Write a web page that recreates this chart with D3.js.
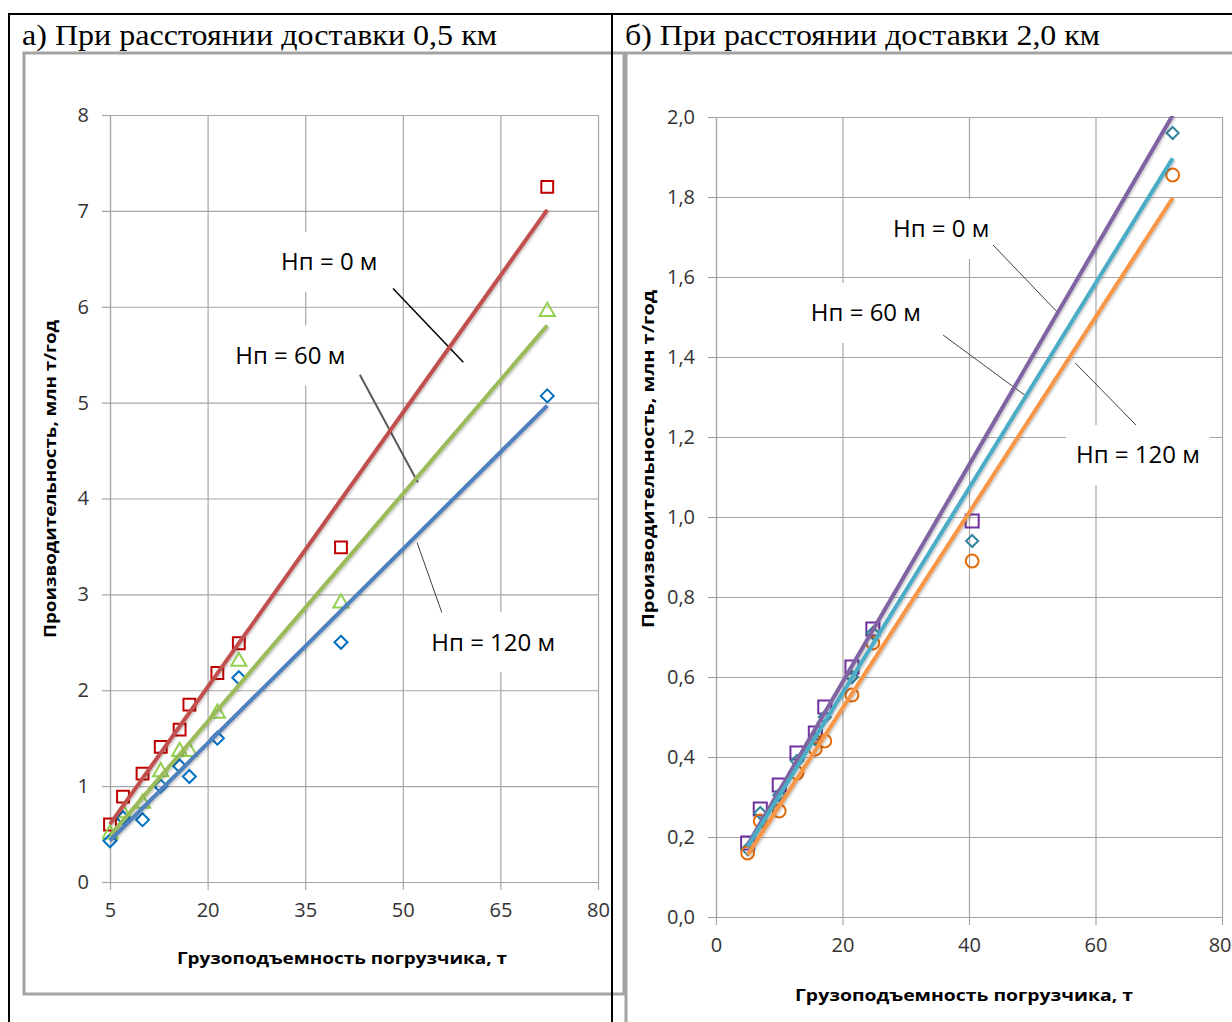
<!DOCTYPE html>
<html>
<head>
<meta charset="utf-8">
<script src="https://cdn.jsdelivr.net/npm/d3@7"></script>
<style>
    body { margin: 0; background: #fff; }
    svg { display: block; }
</style>
</head>
<body>
<script>
// DATA

// loader capacity, t (same set of loaders on both charts)
var capacity = [5, 7, 10, 12.8, 15.7, 17.2, 21.5, 24.8, 40.5, 72.2];

var seriesNames = ['Нп = 0 м', 'Нп = 60 м', 'Нп = 120 м'];

// a) delivery distance 0.5 km, output mln t/year
var leftH0 = [0.60, 0.89, 1.13, 1.41, 1.59, 1.85, 2.18, 2.49, 3.49, 7.25];
var leftH60 = [0.50, 0.72, 0.82, 1.15, 1.36, 1.36, 1.76, 2.30, 2.91, 5.95];
var leftH120 = [0.43, 0.67, 0.65, 1.00, 1.21, 1.10, 1.50, 2.13, 2.50, 5.07];
var leftXTicks = [5, 20, 35, 50, 65, 80];
var leftYTicks = [0, 1, 2, 3, 4, 5, 6, 7, 8];

// б) delivery distance 2.0 km
var rightH0 = [0.185, 0.27, 0.33, 0.41, 0.46, 0.525, 0.625, 0.72, 0.99, 2.08];
var rightH60 = [0.17, 0.26, 0.305, 0.39, 0.445, 0.50, 0.60, 0.71, 0.94, 1.96];
var rightH120 = [0.16, 0.24, 0.265, 0.36, 0.42, 0.44, 0.555, 0.685, 0.89, 1.855];
var rightXTicks = [0, 20, 40, 60, 80];
var rightYTicks = [0, 0.2, 0.4, 0.6, 0.8, 1.0, 1.2, 1.4, 1.6, 1.8, 2.0];

var titles = ['а) При расстоянии доставки 0,5 км', 'б) При расстоянии доставки 2,0 км'];
var xTitle = 'Грузоподъемность погрузчика, т';
var yTitle = 'Производительность, млн т/год';

window.LoaderCharts = {
    init: function () {
        var self = this;

        // PROPERTIES

        self.width = 1232;
        self.height = 1022;
        self.ruFormat = d3.formatLocale({decimal: ',', thousands: ' ', grouping: [3], currency: ['', '']});

        // SVG Setup
        self.svg = d3.select('body').append('svg')
            .attr('width', self.width)
            .attr('height', self.height);

        var defs = self.svg.append('defs');
        defs.append('filter').attr('id', 'soft')
            .attr('x', '-10%').attr('y', '-10%').attr('width', '120%').attr('height', '120%')
            .append('feDropShadow')
            .attr('dx', 1).attr('dy', 1.5).attr('stdDeviation', 1)
            .attr('flood-color', '#000').attr('flood-opacity', 0.25);

        self.drawFrames();

        self.drawPanel({
            id: 'a',
            plot: {left: 110, top: 115, right: 598, bottom: 882},
            xDomain: [5, 80],
            yDomain: [0, 8],
            xTicks: leftXTicks,
            yTicks: leftYTicks,
            yFormat: self.ruFormat.format('d'),
            xTitle: {x: 342, y: 958, len: 330},
            yTitle: {x: 50, y: 479, len: 318},
            series: [
                {values: leftH0, marker: 'square', size: 140, markColor: '#C00000', lineColor: '#C0504D'},
                {values: leftH60, marker: 'triangle', size: 100, markColor: '#92D050', lineColor: '#9BBB59'},
                {values: leftH120, marker: 'diamond', size: 6.5, markColor: '#0070C0', lineColor: '#4F81BD'}
            ],
            notes: [
                {text: seriesNames[0], at: [38.7, 6.47], from: [48.5, 6.19], to: [59.3, 5.42], stroke: '#000', sw: 1.5},
                {text: seriesNames[1], at: [32.7, 5.49], from: [43.4, 5.29], to: [52.3, 4.17], stroke: '#595959', sw: 2},
                {text: seriesNames[2], at: [63.9, 2.50], from: [52.2, 3.54], to: [56.0, 2.81], stroke: '#404040', sw: 1}
            ]
        });

        self.drawPanel({
            id: 'b',
            plot: {left: 716, top: 117, right: 1222, bottom: 917},
            xDomain: [0, 80],
            yDomain: [0, 2],
            xTicks: rightXTicks,
            yTicks: rightYTicks,
            yFormat: self.ruFormat.format('.1f'),
            lastLabelEnd: 1231,
            xTitle: {x: 964, y: 995, len: 338},
            yTitle: {x: 648, y: 459, len: 338},
            series: [
                {values: rightH0, marker: 'square', size: 170, markColor: '#7030A0', lineColor: '#8064A2'},
                {values: rightH60, marker: 'diamond', size: 6, markColor: '#31859C', lineColor: '#4BACC6'},
                {values: rightH120, marker: 'circle', size: 130, markColor: '#E46C0A', lineColor: '#F79646'}
            ],
            notes: [
                {text: seriesNames[0], at: [35.6, 1.72], from: [43.8, 1.68], to: [54.1, 1.51], stroke: '#404040', sw: 1},
                {text: seriesNames[1], at: [23.7, 1.51], from: [35.9, 1.455], to: [49.2, 1.30], stroke: '#404040', sw: 1},
                {text: seriesNames[2], at: [66.7, 1.155], from: [56.8, 1.385], to: [66.4, 1.23], stroke: '#404040', sw: 1}
            ]
        });
    },
    drawFrames: function () {
        var self = this,
            g = self.svg.append('g');

        // chart areas (grey borders)
        g.append('rect')
            .attr('x', 24).attr('y', 53).attr('width', 600).attr('height', 941)
            .attr('fill', 'none').attr('stroke', '#A3A3A3').attr('stroke-width', 3);
        g.append('path')
            .attr('d', 'M626,1030 V53 H1240')
            .attr('fill', 'none').attr('stroke', '#A3A3A3').attr('stroke-width', 3);

        // table borders
        g.append('path')
            .attr('d', 'M9,1030 V14 H1240 M612,14 V1030')
            .attr('fill', 'none').attr('stroke', '#000').attr('stroke-width', 2);

        // captions
        g.selectAll('text.caption').data(titles).enter().append('text')
            .attr('class', 'caption')
            .attr('x', function (d, i) { return i === 0 ? 22 : 625; })
            .attr('y', 45)
            .attr('font-family', '"Liberation Serif", "Times New Roman", serif')
            .attr('font-size', 30)
            .attr('textLength', 475)
            .attr('lengthAdjust', 'spacingAndGlyphs')
            .attr('fill', '#000')
            .text(function (d) { return d; });
    },
    fitLine: function (xs, ys) {
        var n = xs.length,
            mx = d3.mean(xs),
            my = d3.mean(ys),
            sxy = 0,
            sxx = 0;

        xs.forEach(function (x, i) {
            sxy += (x - mx) * (ys[i] - my);
            sxx += (x - mx) * (x - mx);
        });

        var b = sxy / sxx,
            a = my - b * mx;

        return [xs[0], xs[n - 1]].map(function (x) { return {x: x, y: a + b * x}; });
    },
    symbolFor: function (s) {
        if (s.marker === 'diamond') {
            var r = s.size;
            return {
                draw: function (ctx) {
                    ctx.moveTo(0, -r);
                    ctx.lineTo(r, 0);
                    ctx.lineTo(0, r);
                    ctx.lineTo(-r, 0);
                    ctx.closePath();
                }
            };
        }
        return {square: d3.symbolSquare, triangle: d3.symbolTriangle, circle: d3.symbolCircle}[s.marker];
    },
    drawPanel: function (cfg) {
        var self = this,
            p = cfg.plot,
            w = p.right - p.left,
            h = p.bottom - p.top,
            x, y, g, plot, xAxis;

        x = d3.scaleLinear().domain(cfg.xDomain).range([p.left, p.right]);
        y = d3.scaleLinear().domain(cfg.yDomain).range([p.bottom, p.top]);

        g = self.svg.append('g');

        // Grid
        g.append('g')
            .attr('transform', 'translate(0,' + p.bottom + ')')
            .call(d3.axisBottom(x).tickValues(cfg.xTicks).tickSize(-h).tickFormat(''))
            .call(function (a) {
                a.select('.domain').remove();
                a.selectAll('line').attr('stroke', '#A6A6A6').attr('stroke-width', 1.2);
            });
        g.append('g')
            .attr('transform', 'translate(' + p.left + ',0)')
            .call(d3.axisLeft(y).tickValues(cfg.yTicks).tickSize(-w).tickFormat(''))
            .call(function (a) {
                a.select('.domain').remove();
                a.selectAll('line').attr('stroke', '#A6A6A6').attr('stroke-width', 1.2);
            });

        // Axes
        var tickFont = function (a) {
            a.select('.domain').attr('stroke', '#A6A6A6').attr('stroke-width', 1.2);
            a.selectAll('line').attr('stroke', '#A6A6A6').attr('stroke-width', 1.2);
            a.selectAll('text')
                .attr('font-family', '"Open Sans", sans-serif')
                .attr('font-size', 20)
                .attr('fill', '#333');
        };
        xAxis = g.append('g')
            .attr('transform', 'translate(0,' + p.bottom + ')')
            .call(d3.axisBottom(x).tickValues(cfg.xTicks).tickSize(8).tickSizeOuter(0).tickPadding(13).tickFormat(d3.format('d')))
            .call(tickFont);
        if (cfg.lastLabelEnd) {
            // last label sits at the page edge, keep it inside
            xAxis.selectAll('.tick').filter(function (d) { return d === cfg.xDomain[1]; })
                .select('text')
                .attr('text-anchor', 'end')
                .attr('x', cfg.lastLabelEnd - p.right);
        }
        g.append('g')
            .attr('transform', 'translate(' + p.left + ',0)')
            .call(d3.axisLeft(y).tickValues(cfg.yTicks).tickSize(8).tickSizeOuter(0).tickPadding(13).tickFormat(cfg.yFormat))
            .call(tickFont);

        // Axis titles
        g.append('text')
            .attr('x', cfg.xTitle.x).attr('y', cfg.xTitle.y)
            .attr('dy', '0.35em')
            .attr('text-anchor', 'middle')
            .attr('font-family', '"Open Sans", sans-serif')
            .attr('font-weight', 'bold')
            .attr('font-size', 16)
            .attr('textLength', cfg.xTitle.len)
            .attr('lengthAdjust', 'spacingAndGlyphs')
            .attr('fill', '#000')
            .text(xTitle);
        g.append('text')
            .attr('transform', 'translate(' + cfg.yTitle.x + ',' + cfg.yTitle.y + ') rotate(-90)')
            .attr('dy', '0.35em')
            .attr('text-anchor', 'middle')
            .attr('font-family', '"Open Sans", sans-serif')
            .attr('font-weight', 'bold')
            .attr('font-size', 16)
            .attr('textLength', cfg.yTitle.len)
            .attr('lengthAdjust', 'spacingAndGlyphs')
            .attr('fill', '#000')
            .text(yTitle);

        // Annotation labels with white boxes
        cfg.notes.forEach(function (n) {
            var lbl = g.append('g'),
                t = lbl.append('text')
                    .attr('x', x(n.at[0])).attr('y', y(n.at[1]))
                    .attr('dy', '0.35em')
                    .attr('text-anchor', 'middle')
                    .attr('font-family', '"Open Sans", sans-serif')
                    .attr('font-size', 24)
                    .attr('fill', '#000')
                    .text(n.text),
                bb = t.node().getBBox();

            lbl.insert('rect', 'text')
                .attr('x', bb.x - 10).attr('y', y(n.at[1]) - 30)
                .attr('width', bb.width + 20).attr('height', 60)
                .attr('fill', '#fff');

            g.append('line')
                .attr('x1', x(n.from[0])).attr('y1', y(n.from[1]))
                .attr('x2', x(n.to[0])).attr('y2', y(n.to[1]))
                .attr('stroke', n.stroke).attr('stroke-width', n.sw);
        });

        // Plot clip
        self.svg.select('defs').append('clipPath').attr('id', 'clip-' + cfg.id)
            .append('rect').attr('x', p.left - 8).attr('y', p.top - 1).attr('width', w + 16).attr('height', h + 10);

        plot = g.append('g').attr('clip-path', 'url(#clip-' + cfg.id + ')');

        // Markers
        cfg.series.forEach(function (s) {
            var sym = d3.symbol().type(self.symbolFor(s)).size(s.size);

            plot.selectAll(null).data(s.values).enter().append('path')
                .attr('d', sym)
                .attr('transform', function (d, i) { return 'translate(' + x(capacity[i]) + ',' + y(d) + ')'; })
                .attr('fill', 'none')
                .attr('stroke', s.markColor)
                .attr('stroke-width', 2);
        });

        // Linear trend lines
        var line = d3.line().x(function (d) { return x(d.x); }).y(function (d) { return y(d.y); });

        cfg.series.forEach(function (s) {
            plot.append('path')
                .datum(self.fitLine(capacity, s.values))
                .attr('d', line)
                .attr('fill', 'none')
                .attr('stroke', s.lineColor)
                .attr('stroke-width', 4)
                .attr('filter', 'url(#soft)');
        });
    }
};

LoaderCharts.init();
</script>
</body>
</html>
